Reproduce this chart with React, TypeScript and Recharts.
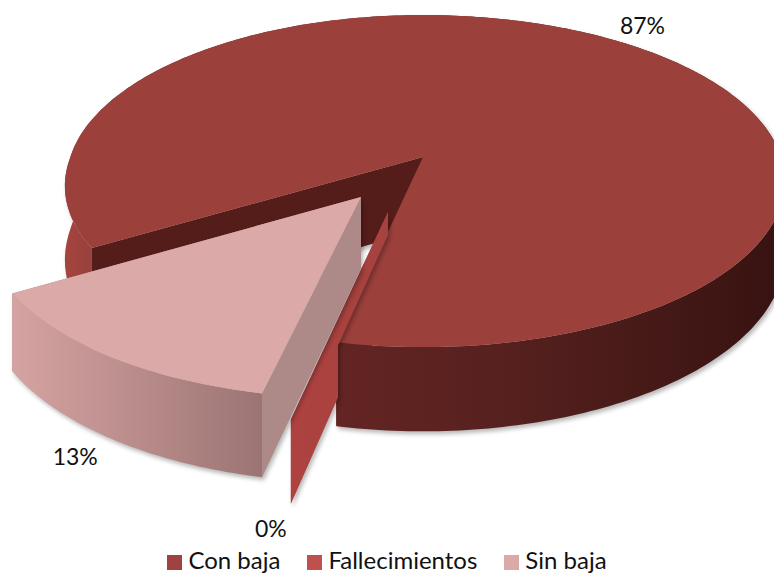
import { PieChart, Pie, Legend } from "recharts"

const categories = ["Con baja", "Fallecimientos", "Sin baja"]
const values = [87, 0, 13]
const legendColors = ["#9f4340", "#c0504d", "#dba9a8"]

const FONT = "Lato, 'Open Sans', sans-serif"
const TILT = 0.454 // vertical squash of the disc
const PERSPECTIVE = 0.145
const DEPTH = 72

// pulled-out slices: pixel shift of the apex, scale and shear of the slice
const slicePose = [
  { ox: 0, oy: 0, sx: 1, sy: 1, shear: 0 },
  { ox: -35, oy: 55, sx: 1.12, sy: 1.12, shear: 0 },
  { ox: -62, oy: 40, sx: 1.04, sy: 1.06, shear: 0.045 },
]
const labelOffsets = [
  { dx: 34, dy: -14 },
  { dx: -20, dy: 25 },
  { dx: -34, dy: 18 },
]

const chartData = categories.map((name, i) => ({ name, value: values[i], fill: legendColors[i] }))

// the disc's left side sits a little closer to the apex than its right
const leftSqueeze = (v: number) => 0.985 + 0.015 * Math.min(1, Math.max(0, -v / 0.5))

const project = (cx: number, cy: number, r: number, angle: number, index: number, radial = 1) => {
  const pose = slicePose[index]
  const u = Math.cos((angle * Math.PI) / 180) * radial
  const v = Math.sin((angle * Math.PI) / 180) * radial
  const w = 1 + PERSPECTIVE * v
  const squeeze = u < 0 ? leftSqueeze(v) : 1
  const dy = (pose.sy * r * TILT * -v) / w
  const x = cx + pose.ox + (pose.sx * squeeze * r * u) / w - pose.shear * dy
  const y = cy + pose.oy + dy
  return { x, y, drop: DEPTH / w }
}

const toPath = (pts: { x: number; y: number }[]) =>
  pts.map((p, i) => `${i ? "L" : "M"}${p.x.toFixed(1)},${p.y.toFixed(1)}`).join(" ") + " Z"

const SideGradients = () => (
  <defs>
    <linearGradient id="mainSide" gradientUnits="userSpaceOnUse" x1="60" y1="0" x2="774" y2="0">
      <stop offset="0" stopColor="#a8443f" />
      <stop offset="0.06" stopColor="#93403c" />
      <stop offset="0.38" stopColor="#642523" />
      <stop offset="0.65" stopColor="#54201e" />
      <stop offset="1" stopColor="#381311" />
    </linearGradient>
    <linearGradient id="pinkSide" gradientUnits="userSpaceOnUse" x1="10" y1="0" x2="265" y2="0">
      <stop offset="0" stopColor="#d5a3a2" />
      <stop offset="0.5" stopColor="#b98c8b" />
      <stop offset="1" stopColor="#9a7473" />
    </linearGradient>
    <linearGradient id="sliver" gradientUnits="userSpaceOnUse" x1="290" y1="0" x2="390" y2="0">
      <stop offset="0" stopColor="#ae4240" />
      <stop offset="1" stopColor="#a5423f" />
    </linearGradient>
    <clipPath id="sliverClip">
      <path d="M423,157 L338,345 L338,575 L0,575 L0,157 Z" />
    </clipPath>
  </defs>
)

const topColors = ["#9c403c", "#c0504d", "#dba9a8"]
const faceColors = ["#551d1a", "url(#sliver)", "#ad8a88"]
const outerFills = ["url(#mainSide)", "url(#sliver)", "url(#pinkSide)"]

const SliceShape = (props: any) => {
  const { cx, cy, outerRadius, startAngle, endAngle, index } = props
  const span = endAngle - startAngle
  const steps = Math.max(1, Math.round(Math.abs(span)))
  const rim = Array.from({ length: steps + 1 }, (_, i) =>
    project(cx, cy, outerRadius, startAngle + (span * i) / steps, index)
  )
  const apex = project(cx, cy, outerRadius, startAngle, index, 0)
  const down = (p: { x: number; y: number; drop: number }) => ({ x: p.x, y: p.y + p.drop })
  const outer = [...rim, ...[...rim].reverse().map(down)]
  const face = (p: any) => [apex, p, down(p), down(apex)]
  const first = rim[0]
  const last = rim[rim.length - 1]

  return (
    <g style={{ filter: "drop-shadow(2px 3px 2px rgba(0,0,0,0.28))" }}>
      {index === 0 && <SideGradients />}
      <g clipPath={index === 1 ? "url(#sliverClip)" : undefined}>
        <path d={toPath(face(first))} fill={faceColors[index]} />
        <path d={toPath(face(last))} fill={faceColors[index]} />
        {steps > 1 && <path d={toPath(outer)} fill={outerFills[index]} />}
        {steps > 1 && <path d={toPath([apex, ...rim])} fill={topColors[index]} />}
      </g>
    </g>
  )
}

const renderLabel = (props: any) => {
  const { cx, cy, outerRadius, midAngle, percent, index } = props
  const p = project(cx, cy, outerRadius, midAngle, index)
  const extra = index === 0 ? 0 : p.drop
  return (
    <text
      x={p.x + labelOffsets[index].dx}
      y={p.y + extra + labelOffsets[index].dy}
      textAnchor="middle"
      dominantBaseline="central"
      fontFamily={FONT}
      fontSize={23}
      fill="#111"
    >
      {`${Math.round(percent * 100)}%`}
    </text>
  )
}

export default function App() {
  return (
    <div style={{ position: "absolute", left: 0, top: 0, width: 774, height: 575, background: "#fff" }}>
      <PieChart width={774} height={575} margin={{ top: 0, right: 0, bottom: 0, left: 0 }}>
        <Pie
          data={chartData}
          dataKey="value"
          nameKey="name"
          cx={423}
          cy={157}
          innerRadius={0}
          outerRadius={358}
          startAngle={211.2}
          endAngle={-148.8}
          stroke="none"
          shape={SliceShape}
          label={renderLabel}
          labelLine={false}
          isAnimationActive={false}
        />
        <Legend
          iconType="square"
          iconSize={15}
          verticalAlign="bottom"
          align="center"
          itemSorter={null}
          wrapperStyle={{ bottom: 1, left: 5, width: 774, fontFamily: FONT, fontSize: 24 }}
          formatter={(value: string, _entry: any, i: number) => (
            <span style={{ color: "#111", marginLeft: 2, marginRight: i < categories.length - 1 ? 17 : 0 }}>{value}</span>
          )}
        />
      </PieChart>
    </div>
  )
}
